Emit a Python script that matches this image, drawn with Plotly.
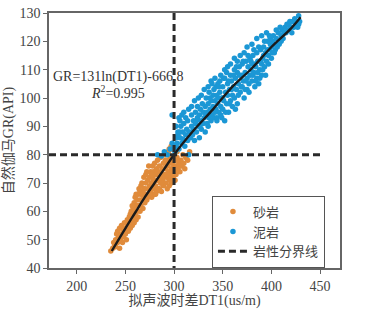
import plotly.graph_objects as go

# ---- data ----
sand_pts = [
 (235,46),(237,47),(238,49),(239,48),(240,50),(240,47.5),(241,52),(242,49),(242,53),(243,51),(244,47),(244,54),
 (245,50),(246,52),(246,55),(247,49),(248,53),(248,51),(249,56),(250,54),(250,52),(251,50),(252,57),(252,55),(253,53),
 (254,58),(254,56),(255,54),(256,60),(256,57),(257,55),(258,61),(258,58),(259,63),(259,56),(260,59),(260,65),(261,62),
 (261,57),(262,64),(262,60),(263,58),(263,66),(264,62),(264,68),(265,60),(265,64),
 (266,69),(266,66),(266,62),(267,64),(267,70),(268,67),(268,61),(269,65),(269,72),(270,68),(270,63),(271,66),(271,70),
 (272,74),(272,64),(273,68),(273,71),(274,66),(274,76),(275,69),(275,72),(276,67),(276,74),(277,70),(277,65),(278,72),
 (278,76),(279,68),(279,74),(280,71),(280,66),(280,77),
 (281,73),(281,69),(282,75),(282,67),(283,71),(283,78),(284,74),(284,68),(285,72),(285,76),(286,70),(286,79),(287,73),
 (287,67),(288,75),(288,71),(289,77),(289,69),(290,73),(290,80),(291,75),(291,70),(292,72),(292,78),(293,76),(293,68),
 (294,74),(294,81),(295,71),(295,77),(296,73),(296,79),(297,75),(297,70),(298,77),(298,82),(299,72),(299,74),(300,76),
 (300,71),(297,83),(299,82),(303,81),(295,82),
 (301,78),(301,74),(302,76),(302,73),(303,79),(304,75),(305,77),(306,74),(307,78),(308,76),(309,80),(310,77),(311,75),
 (312,79),(314,78),(316,81),
 (255,59),(257,62),(259,60),(261,66),(263,62),(265,67),(267,66),(269,68),(271,73),(273,65),(275,66),(277,73),(279,71),
 (281,66),(283,74),(285,68),(287,70),(289,72),(291,78),(293,73),(295,69),(297,72),(299,78),(301,71),(304,78),(306,76),
 (243,50),(247,54),(251,56),(249,52),
]
mud_pts = [
 (283,80),(287,79.5),(290,81),(293,80),(296,82),(298,84),(300,83),(301,81),(302,86),(303,84),(304,88),(305,82),(306,86),
 (307,90),(308,84),(309,88),(310,91),(310,85),(311,83),(312,87),(313,89),(314,92),(314,85),(315,80),(316,88),(317,86),
 (318,90),(318,94),(319,87),(320,92),(320,89),(321,85),(322,95),(322,91),(323,88),(324,93),(324,97),(325,90),(326,94),
 (326,86),(327,96),(328,92),(328,89),(329,98),(330,95),(330,91),(331,93),(332,97),(332,88),(333,100),(334,95),(334,91),
 (335,98),(336,93),(336,102),(337,96),(338,99),(338,92),(339,94),(340,101),(340,97),(341,103),(341,93),(342,99),(343,96),
 (343,104),(344,92),(345,100),(345,98),(346,95),(347,102),(347,106),(348,97),(349,100),(349,93),(350,104),(350,96),
 (351,99),(352,107),(352,92),(353,102),(354,98),(355,105),(355,101),(356,95),(357,103),(358,108),(358,99),(359,106),
 (360,101),(360,97),(361,104),(362,110),(362,100),(363,107),(364,103),(365,109),(365,98),(366,105),(367,111),(368,102),
 (369,108),(370,104),(370,112),(371,106),(372,100),(373,109),(374,113),(375,107),(375,103),(376,111),(377,105),(378,114),
 (378,108),(379,110),(380,106),(380,112),(381,115),(382,109),(383,104),(384,111),(385,116),(385,107),(386,113),(387,105),
 (388,110),(389,117),(390,112),(390,108),(391,114),(392,118),(393,111),(394,116),(395,113),(396,120),(397,115),(398,117),
 (399,121),(400,118),(400,114),(401,116),(402,122),(403,119),(404,117),(405,121),(407,123),(408,119),(410,122),(411,124),
 (412,121),(414,125),(415,123),(417,124),(418,126),(420,125),(421,123),(422,127),(423,125),(424,128),(425,126),(426,127),
 (427,125),(428,129),(429,127),(428,126),
 (302,90),(304,87),(306,92),(305,93),(310,95),(308,94),(298,94),
 (335,104),(338,106),(342,107),(345,105),(348,108),(352,110),(355,111),(358,112),(362,114),(365,113),(368,115),
 (372,116),(375,118),(380,119),(385,121),(390,122),(395,123),(398,122),(384,106),(388,107),(344,93),(327,90.5),
 (318,97),(321,99),(323,92),(325,100),(328,101),(331,103),(333,94),(335,90),(337,100),(339,105),(342,95),(344,101),
 (346,104),(348,94),(350,100),(351,107),(353,95),(354,109),(356,106),(357,98),(359,103),(361,108),(363,96),(364,111),
 (366,101),(367,108),(369,104),(371,113),(373,103),(374,106),(376,115),(377,102),(379,113),(381,108),(382,117),
 (383,112),(386,109),(387,118),(389,113),(391,110),(392,115),(393,120),(394,108),(396,117),(397,112),(399,119),
 (401,120),(403,116),(405,124),(406,118),(409,125),(410,120),(413,123),(416,126),(419,127),(315,96),(312,93),
 (309,85.5),(306,88),(303,82.5),
]
fit_x = [236, 250, 260, 270, 280, 290, 300, 320, 340, 360, 380, 400, 420, 430]
fit_y = [46, 54, 59.5, 65, 70, 75, 80, 88.5, 96, 104, 110.5, 118, 124.5, 128.5]
DT_CUT = 300
GR_CUT = 80
X_MIN, X_MAX = 171.5, 470.5
Y_MIN, Y_MAX = 40, 130
H_END = 450

sand_x = [p[0] for p in sand_pts]; sand_y = [p[1] for p in sand_pts]
mud_x = [p[0] for p in mud_pts]; mud_y = [p[1] for p in mud_pts]

FONT = "Liberation Serif, Noto Sans CJK SC, serif"
TXT = "#444444"

fig = go.Figure()
fig.add_trace(go.Scatter(x=sand_x, y=sand_y, mode="markers", name="砂岩",
                         marker=dict(color="#E08B3B", size=5.5)))
fig.add_trace(go.Scatter(x=mud_x, y=mud_y, mode="markers", name="泥岩",
                         marker=dict(color="#1B97D5", size=5.5)))
fig.add_trace(go.Scatter(x=fit_x, y=fit_y, mode="lines", showlegend=False,
                         line=dict(color="#1a1a1a", width=2.4, shape="spline")))
fig.add_trace(go.Scatter(x=[DT_CUT, DT_CUT, None, X_MIN, H_END],
                         y=[Y_MAX, Y_MIN, None, GR_CUT, GR_CUT],
                         mode="lines", name="岩性分界线",
                         line=dict(color="#2a2a2a", width=3, dash="7px,4px")))

fig.add_annotation(x=242.5, y=107.5, text="GR=131ln(DT1)-666.8", showarrow=False,
                   font=dict(family=FONT, size=14, color="#333333"))
fig.add_annotation(x=242.5, y=102.2, text="<i>R</i><sup>2</sup>=0.995", showarrow=False,
                   font=dict(family=FONT, size=14, color="#333333"))

axis_common = dict(showline=True, linecolor="#666666", linewidth=1.5, mirror=True,
                   ticks="outside", ticklen=4, tickcolor="#666666", tickwidth=1.2,
                   showgrid=False, zeroline=False, automargin=False,
                   tickfont=dict(family=FONT, size=14, color=TXT))
fig.update_xaxes(range=[X_MIN, X_MAX], tickvals=[200, 250, 300, 350, 400, 450],
                 title=dict(text="拟声波时差DT1(us/m)", font=dict(family=FONT, size=14, color=TXT), standoff=6),
                 **axis_common)
fig.update_yaxes(range=[Y_MIN, Y_MAX], dtick=10,
                 title=dict(text="自然伽马GR(API)", font=dict(family=FONT, size=14, color=TXT), standoff=8),
                 **axis_common)

fig.update_layout(width=369, height=309, margin=dict(l=49, r=29, t=13, b=41),
                  plot_bgcolor="white", paper_bgcolor="white",
                  legend=dict(x=0.56, y=0.284, xanchor="left", yanchor="top",
                              bordercolor="#555555", borderwidth=1, bgcolor="white",
                              font=dict(family=FONT, size=13, color=TXT),
                              itemwidth=30, tracegroupgap=0),
                  font=dict(family=FONT, color=TXT))
fig.write_html("out.html", config={"displayModeBar": False},
               post_script="document.body.style.margin='0';document.body.style.overflow='hidden';")
